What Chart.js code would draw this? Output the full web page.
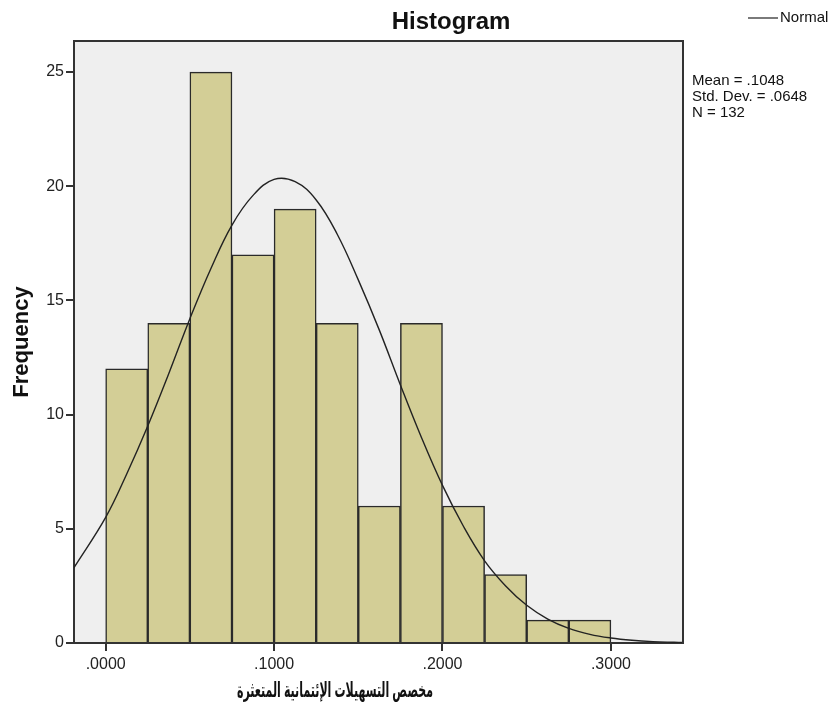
<!DOCTYPE html>
<html>
<head>
<meta charset="utf-8">
<script src="https://cdn.jsdelivr.net/npm/chart.js@4/dist/chart.umd.min.js"></script>
<style>
  html, body { margin: 0; padding: 0; background: #fff; }
  #wrap { width: 829px; height: 711px; }
</style>
</head>
<body>
<div id="wrap"><canvas id="histChart" width="829" height="711"></canvas></div>
<script>
// bin centres (width .025) and frequencies
const binCenters = [0.0125, 0.0375, 0.0625, 0.0875, 0.1125, 0.1375, 0.1625, 0.1875, 0.2125, 0.2375, 0.2625, 0.2875];
const frequencies = [12, 14, 25, 17, 19, 14, 6, 14, 6, 3, 1, 1];

// normal curve
const curveX = [-0.0188, 0, 0.0125, 0.025, 0.0375, 0.05, 0.0625, 0.075, 0.0875, 0.1, 0.1125, 0.125, 0.1375, 0.15,
  0.1625, 0.175, 0.1875, 0.2, 0.2125, 0.225, 0.2375, 0.25, 0.2625, 0.275, 0.2875, 0.3, 0.3125, 0.325, 0.3375, 0.3428];
const curveY = [3.3, 5.5, 7.4, 9.5, 11.8, 14.2, 16.4, 18.3, 19.6, 20.3, 20.2, 19.4, 17.9, 15.9,
  13.7, 11.3, 9.0, 6.9, 5.1, 3.6, 2.5, 1.65, 1.05, 0.64, 0.38, 0.22, 0.12, 0.06, 0.03, 0.02];

const xTicks = [0, 0.1, 0.2, 0.3];
const xTickLabels = ['.0000', '.1000', '.2000', '.3000'];
const yTicks = [0, 5, 10, 15, 20, 25];

const statsLines = ['Mean = .1048', 'Std. Dev. = .0648', 'N = 132'];
const xTitle = 'مخصص التسهيلات الإئتمانية المتعثرة';

const frameColor = '#333333';

const decorations = {
  id: 'decorations',
  beforeDraw(chart) {
    const { ctx, chartArea: a } = chart;
    ctx.save();
    ctx.fillStyle = '#efefef';
    ctx.fillRect(a.left, a.top, a.right - a.left, a.bottom - a.top);
    ctx.restore();
  },
  afterDraw(chart) {
    const { ctx, chartArea: a } = chart;
    ctx.save();
    // frame top / right
    ctx.strokeStyle = frameColor;
    ctx.lineWidth = 2;
    ctx.beginPath();
    ctx.moveTo(a.left, a.top);
    ctx.lineTo(a.right, a.top);
    ctx.lineTo(a.right, a.bottom);
    ctx.stroke();

    ctx.fillStyle = '#111';
    ctx.textBaseline = 'middle';
    // title
    ctx.font = 'bold 24px Arial, "Liberation Sans"';
    ctx.textAlign = 'center';
    ctx.fillText('Histogram', 451, 22);

    // y title
    ctx.save();
    ctx.translate(22, 342);
    ctx.rotate(-Math.PI / 2);
    ctx.font = 'bold 22px Arial, "Liberation Sans"';
    ctx.fillText('Frequency', 0, 0);
    ctx.restore();

    // x title (Arabic), squeezed to the width seen in the reference
    ctx.save();
    ctx.font = 'bold 21px Arial, "DejaVu Sans"';
    ctx.direction = 'rtl';
    const w = ctx.measureText(xTitle).width;
    ctx.translate(335, 691);
    ctx.scale(196 / w, 1);
    ctx.fillText(xTitle, 0, 0);
    ctx.restore();

    // legend
    ctx.strokeStyle = '#222';
    ctx.lineWidth = 1.2;
    ctx.beginPath();
    ctx.moveTo(748, 18);
    ctx.lineTo(778, 18);
    ctx.stroke();
    ctx.font = '15px Arial, "Liberation Sans"';
    ctx.textAlign = 'left';
    ctx.fillText('Normal', 780, 18);

    // stats
    statsLines.forEach((t, i) => ctx.fillText(t, 692, 81 + i * 16));
    ctx.restore();
  }
};

const ctx = document.getElementById('histChart').getContext('2d');
const histChart = new Chart(ctx, {
  type: 'bar',
  data: {
    datasets: [{
      type: 'line',
      label: 'Normal',
      data: curveX.map((x, i) => ({ x: x, y: curveY[i] })),
      borderColor: '#222',
      borderWidth: 1.4,
      pointRadius: 0,
      tension: 0.4,
      fill: false,
      order: 0
    }, {
      label: 'Frequency',
      data: binCenters.map((x, i) => ({ x: x, y: frequencies[i] })),
      backgroundColor: '#d3ce96',
      borderColor: '#2a2a2a',
      borderWidth: 1.5,
      barPercentage: 1,
      categoryPercentage: 1,
      order: 1
    }]
  },
  options: {
    responsive: false,
    animation: false,
    layout: { padding: { top: 41, right: 146, left: 0, bottom: 0 } },
    plugins: {
      legend: { display: false },
      tooltip: { enabled: false }
    },
    scales: {
      x: {
        type: 'linear',
        offset: false,
        min: -0.0188,
        max: 0.3428,
        afterBuildTicks: s => { s.ticks = xTicks.map(v => ({ value: v })); },
        afterFit: s => { s.height = 68; },
        ticks: {
          callback: (v) => xTickLabels[xTicks.indexOf(v)],
          font: { family: 'Arial, "Liberation Sans"', size: 16 },
          color: '#222',
          padding: 4,
          maxRotation: 0
        },
        grid: { offset: false, drawOnChartArea: false, drawTicks: true, tickLength: 8, color: frameColor, lineWidth: 2 },
        border: { display: true, color: frameColor, width: 2 }
      },
      y: {
        min: 0,
        max: 26.36,
        afterBuildTicks: s => { s.ticks = yTicks.map(v => ({ value: v })); },
        afterFit: s => { s.width = 74; },
        ticks: {
          font: { family: 'Arial, "Liberation Sans"', size: 16 },
          color: '#222',
          padding: 2
        },
        grid: { drawOnChartArea: false, drawTicks: true, tickLength: 8, color: frameColor, lineWidth: 2 },
        border: { display: true, color: frameColor, width: 2 }
      }
    }
  },
  plugins: [decorations]
});
</script>
</body>
</html>
